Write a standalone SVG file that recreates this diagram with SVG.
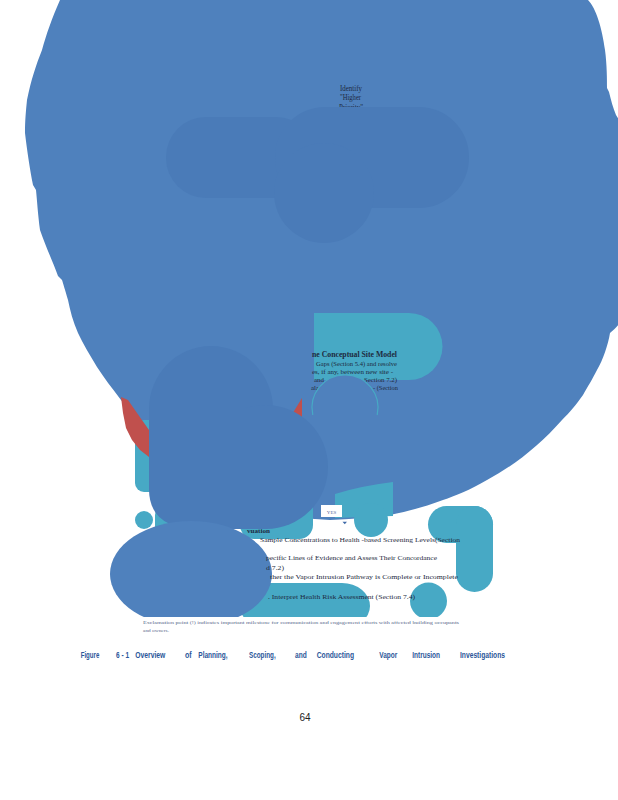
<svg xmlns="http://www.w3.org/2000/svg" width="618" height="800" viewBox="0 0 618 800">
<style>
.main{fill:#4f81bd}
.dark{fill:#4a7bb8}
.teal{fill:#47a9c5}
.red{fill:#c0504d}
.ser{font-family:"Liberation Serif","Times New Roman",serif;fill:#1e2a40}
.cap{font-family:"Liberation Sans Narrow","Liberation Sans",Arial,sans-serif;font-weight:bold;font-size:9.5px;fill:#2a5699}
.foot{font-family:"Liberation Serif",serif;font-size:5px;fill:#5a6a8c}
</style>
<rect width="618" height="800" fill="#ffffff"/>
<g id="main-blob">
<path class="main" d="M60,0 L588,0 C596,8 602,28 605,50 C607,65 607,80 607,88 L609,92 C611,100 613,108 616,115 L622,125 L622,320 C618,326 614,330 610,333 C608,345 603,360 597,370 C592,380 588,386 583,395 C576,405 570,412 562,420 C540,445 515,465 487,480 C470,490 455,496 443,500 C425,507 405,512 390,515 C370,518 350,519 330,520 L300,518 L200,480 L150,435 L121,400 C112,388 104,378 97,367 C90,355 83,344 78,333 C73,322 70,310 68,300 C65,290 63,283 62,280 L58,276 C53,262 45,245 40,230 C38,215 37,200 36,190 L33,185 C30,170 27,150 25,133 C25,120 26,110 27,100 C31,80 36,65 42,50 C46,35 52,18 60,0 Z"/>
</g>
<g id="identify">
<text class="ser" font-size="7.5" x="340" y="91" textLength="22" lengthAdjust="spacingAndGlyphs">Identify</text>
<text class="ser" font-size="7.5" x="340" y="100" textLength="21" lengthAdjust="spacingAndGlyphs">"Higher</text>
<text class="ser" font-size="7.5" x="339" y="109.5" textLength="24" lengthAdjust="spacingAndGlyphs">Priority"</text>
</g>
<g id="top-pills">
<rect class="dark" x="166" y="117" width="150" height="81" rx="40"/>
<rect class="dark" x="275" y="107" width="194" height="101" rx="50"/>
<circle class="dark" cx="324" cy="193" r="50"/>
</g>
<g id="csm">
<path class="teal" d="M314,313 L409,313 A33.5,33.5 0 0 1 409,380 L314,380 Z"/>
<text class="ser" font-size="7.5" font-weight="bold" fill="#111" x="312" y="357" textLength="85" lengthAdjust="spacingAndGlyphs">ne  Conceptual  Site  Model</text>
<text class="ser" font-size="7" x="316" y="365.5" textLength="81" lengthAdjust="spacingAndGlyphs">Gaps (Section 5.4) and resolve</text>
<text class="ser" font-size="7" x="312" y="373.5" textLength="81" lengthAdjust="spacingAndGlyphs">es,  if any, between  new site -</text>
<text class="ser" font-size="7" x="314" y="381.5" textLength="10" lengthAdjust="spacingAndGlyphs">and</text>
<text class="ser" font-size="7" x="364" y="381.5" textLength="33" lengthAdjust="spacingAndGlyphs">Section 7.2)</text>
<text class="ser" font-size="7" x="311" y="390" textLength="10" lengthAdjust="spacingAndGlyphs">alai</text>
<text class="ser" font-size="7" x="373" y="390" textLength="25" lengthAdjust="spacingAndGlyphs">- (Section</text>
<path d="M312.8,415 A33,33 0 1 1 377.2,415" fill="#4f81bd" stroke="#47a9c5" stroke-width="1.2"/>
</g>
<g id="lower-left">
<rect class="teal" x="135" y="420" width="30" height="72" rx="9"/>
<path class="red" d="M121,397 L128,400 L137,413 L149,430 L149,457 L140,450 L132,440 L126,428 L123,413 Z"/>
<path class="red" d="M291,416 L302,398 L302,418 Z"/>
<circle class="teal" cx="144" cy="520" r="9"/>
<rect class="teal" x="155" y="503" width="50" height="40" rx="12"/>
<rect class="teal" x="240" y="495" width="73" height="44" rx="14"/>
<g class="dark">
<ellipse cx="211" cy="409" rx="62" ry="63"/>
<circle cx="266" cy="467" r="62"/>
<path d="M149,409 L266,409 L266,529 L199,529 Q149,529 149,489 Z"/>
</g>
</g>
<g id="lower-right">
<path class="teal" d="M335,494 Q360,486 393,482 L393,516 L335,518 Z"/>
<circle class="teal" cx="371" cy="520" r="17"/>
<rect class="teal" x="428" y="506" width="65" height="37" rx="18.5"/>
<rect class="teal" x="456" y="506" width="37" height="86" rx="18.5"/>
<rect class="teal" x="240" y="583" width="130" height="46" rx="28"/>
<circle class="teal" cx="428.5" cy="601" r="18.5"/>
<ellipse class="main" cx="191" cy="574" rx="81" ry="53"/>
</g>
<g id="yes">
<rect x="321" y="505" width="21" height="12" fill="#ffffff"/>
<text x="331.5" y="513.5" text-anchor="middle" font-family="Liberation Serif,serif" font-size="5" fill="#5a6a9a">YES</text>
<path d="M342.5,521.8 L347,521.8 L344.8,524.2 Z" fill="#3f6aa8"/>
</g>
<g id="steps">
<text class="ser" font-size="6.5" font-weight="bold" fill="#111" x="247" y="533" textLength="23" lengthAdjust="spacingAndGlyphs">vuation</text>
<text class="ser" font-size="7" x="260" y="541.5" textLength="200" lengthAdjust="spacingAndGlyphs">Sample  Concentrations  to  Health -based  Screening  Levels(Section</text>
<text class="ser" font-size="7" x="266" y="560" textLength="171" lengthAdjust="spacingAndGlyphs">pecific  Lines of Evidence  and Assess Their  Concordance</text>
<text class="ser" font-size="7" x="266" y="569.5" textLength="18" lengthAdjust="spacingAndGlyphs">d 7.2)</text>
<text class="ser" font-size="7" x="270" y="579" textLength="188" lengthAdjust="spacingAndGlyphs">ther  the  Vapor  Intrusion  Pathway  is Complete  or  Incomplete</text>
<text class="ser" font-size="7" x="268" y="598.5" textLength="147" lengthAdjust="spacingAndGlyphs">. Interpret  Health  Risk Assessment  (Section  7.4)</text>
</g>
<g id="footnote">
<rect x="138" y="617" width="330" height="19" fill="#ffffff"/>
<text class="foot" x="143" y="624" textLength="316" lengthAdjust="spacingAndGlyphs">Exclamation   point  (!) indicates  important  milestone   for communication    and  engagement    efforts  with  affected  building  occupants</text>
<text class="foot" x="143" y="632" textLength="26" lengthAdjust="spacingAndGlyphs">and owners.</text>
</g>
<g id="caption">
<text class="cap" x="80.7" y="658" textLength="18.6" lengthAdjust="spacingAndGlyphs">Figure</text>
<text class="cap" x="116" y="658" textLength="13" lengthAdjust="spacingAndGlyphs">6 - 1</text>
<text class="cap" x="135.3" y="658" textLength="30" lengthAdjust="spacingAndGlyphs">Overview</text>
<text class="cap" x="185" y="658" textLength="6.7" lengthAdjust="spacingAndGlyphs">of</text>
<text class="cap" x="198.3" y="658" textLength="29.3" lengthAdjust="spacingAndGlyphs">Planning,</text>
<text class="cap" x="249" y="658" textLength="26.7" lengthAdjust="spacingAndGlyphs">Scoping,</text>
<text class="cap" x="295" y="658" textLength="11.7" lengthAdjust="spacingAndGlyphs">and</text>
<text class="cap" x="316.7" y="658" textLength="37.3" lengthAdjust="spacingAndGlyphs">Conducting</text>
<text class="cap" x="379.3" y="658" textLength="18" lengthAdjust="spacingAndGlyphs">Vapor</text>
<text class="cap" x="412.3" y="658" textLength="27.7" lengthAdjust="spacingAndGlyphs">Intrusion</text>
<text class="cap" x="460" y="658" textLength="45" lengthAdjust="spacingAndGlyphs">Investigations</text>
</g>
<g id="page-number">
<text x="305" y="721" text-anchor="middle" font-family="Liberation Sans Narrow,Liberation Sans,sans-serif" font-size="10" fill="#222">64</text>
</g>
</svg>
